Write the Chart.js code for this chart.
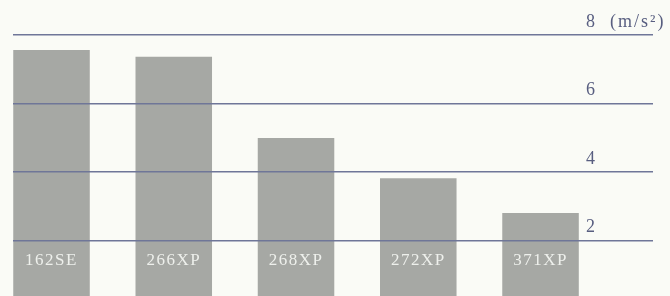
<!DOCTYPE html>
<html>
<head>
<meta charset="utf-8">
<script src="https://cdn.jsdelivr.net/npm/chart.js"></script>
<style>
  html, body { margin: 0; padding: 0; background: #fafbf6; }
  #wrap { position: relative; width: 670px; height: 296px; }
</style>
</head>
<body>
<div id="wrap"><canvas id="vibChart"></canvas></div>
<script>
const models = ["162SE", "266XP", "268XP", "272XP", "371XP"];
const vibration = [7.56, 7.36, 4.99, 3.82, 2.80];
const yTicks = [2, 4, 6, 8];
const unit = "(m/s²)";

// nom du modèle au pied de chaque barre, graduations au-dessus des lignes
const labelsPlugin = {
  id: "labelsPlugin",
  afterDatasetsDraw(chart) {
    const { ctx, chartArea, scales } = chart;
    ctx.save();
    ctx.font = "17px 'Liberation Serif', serif";
    ctx.letterSpacing = "1.5px";
    ctx.fillStyle = "#eef0ec";
    ctx.textAlign = "center";
    ctx.textBaseline = "alphabetic";
    models.forEach((m, i) => {
      ctx.fillText(m, scales.x.getPixelForValue(i), chartArea.bottom - 31);
    });
    ctx.restore();
  },
  afterDraw(chart) {
    const { ctx, chartArea, scales } = chart;
    ctx.save();
    ctx.font = "18px 'Liberation Serif', serif";
    ctx.letterSpacing = "2px";
    ctx.fillStyle = "#585e80";
    ctx.textAlign = "left";
    ctx.textBaseline = "middle";
    yTicks.forEach((v) => {
      const txt = v === 8 ? v + "  " + unit : String(v);
      ctx.fillText(txt, chartArea.right - 67, scales.y.getPixelForValue(v) - 13);
    });
    ctx.restore();
  },
};

const ctx = document.getElementById("vibChart").getContext("2d");
new Chart(ctx, {
  type: "bar",
  data: {
    datasets: [
      {
        data: vibration.map((v, i) => ({ x: i, y: v })),
        backgroundColor: "#a6a8a4",
        borderWidth: 0,
        barPercentage: 0.626,
        categoryPercentage: 1,
      },
    ],
  },
  options: {
    responsive: true,
    maintainAspectRatio: false,
    animation: false,
    layout: { padding: { left: 13, right: 17, top: 0, bottom: 0 } },
    plugins: { legend: { display: false }, tooltip: { enabled: false } },
    scales: {
      x: {
        type: "linear",
        offset: false,
        min: -0.315,
        max: 4.92,
        display: false,
        afterBuildTicks: (s) => {
          s.ticks = models.map((m, i) => ({ value: i }));
        },
      },
      y: {
        min: 0.38,
        max: 9.02,
        border: { display: false },
        grid: { color: "#6f7698", lineWidth: 1.6, drawTicks: false, z: 1 },
        ticks: { display: false },
        afterBuildTicks: (s) => {
          s.ticks = yTicks.map((v) => ({ value: v }));
        },
      },
    },
  },
  plugins: [labelsPlugin],
});
</script>
</body>
</html>
